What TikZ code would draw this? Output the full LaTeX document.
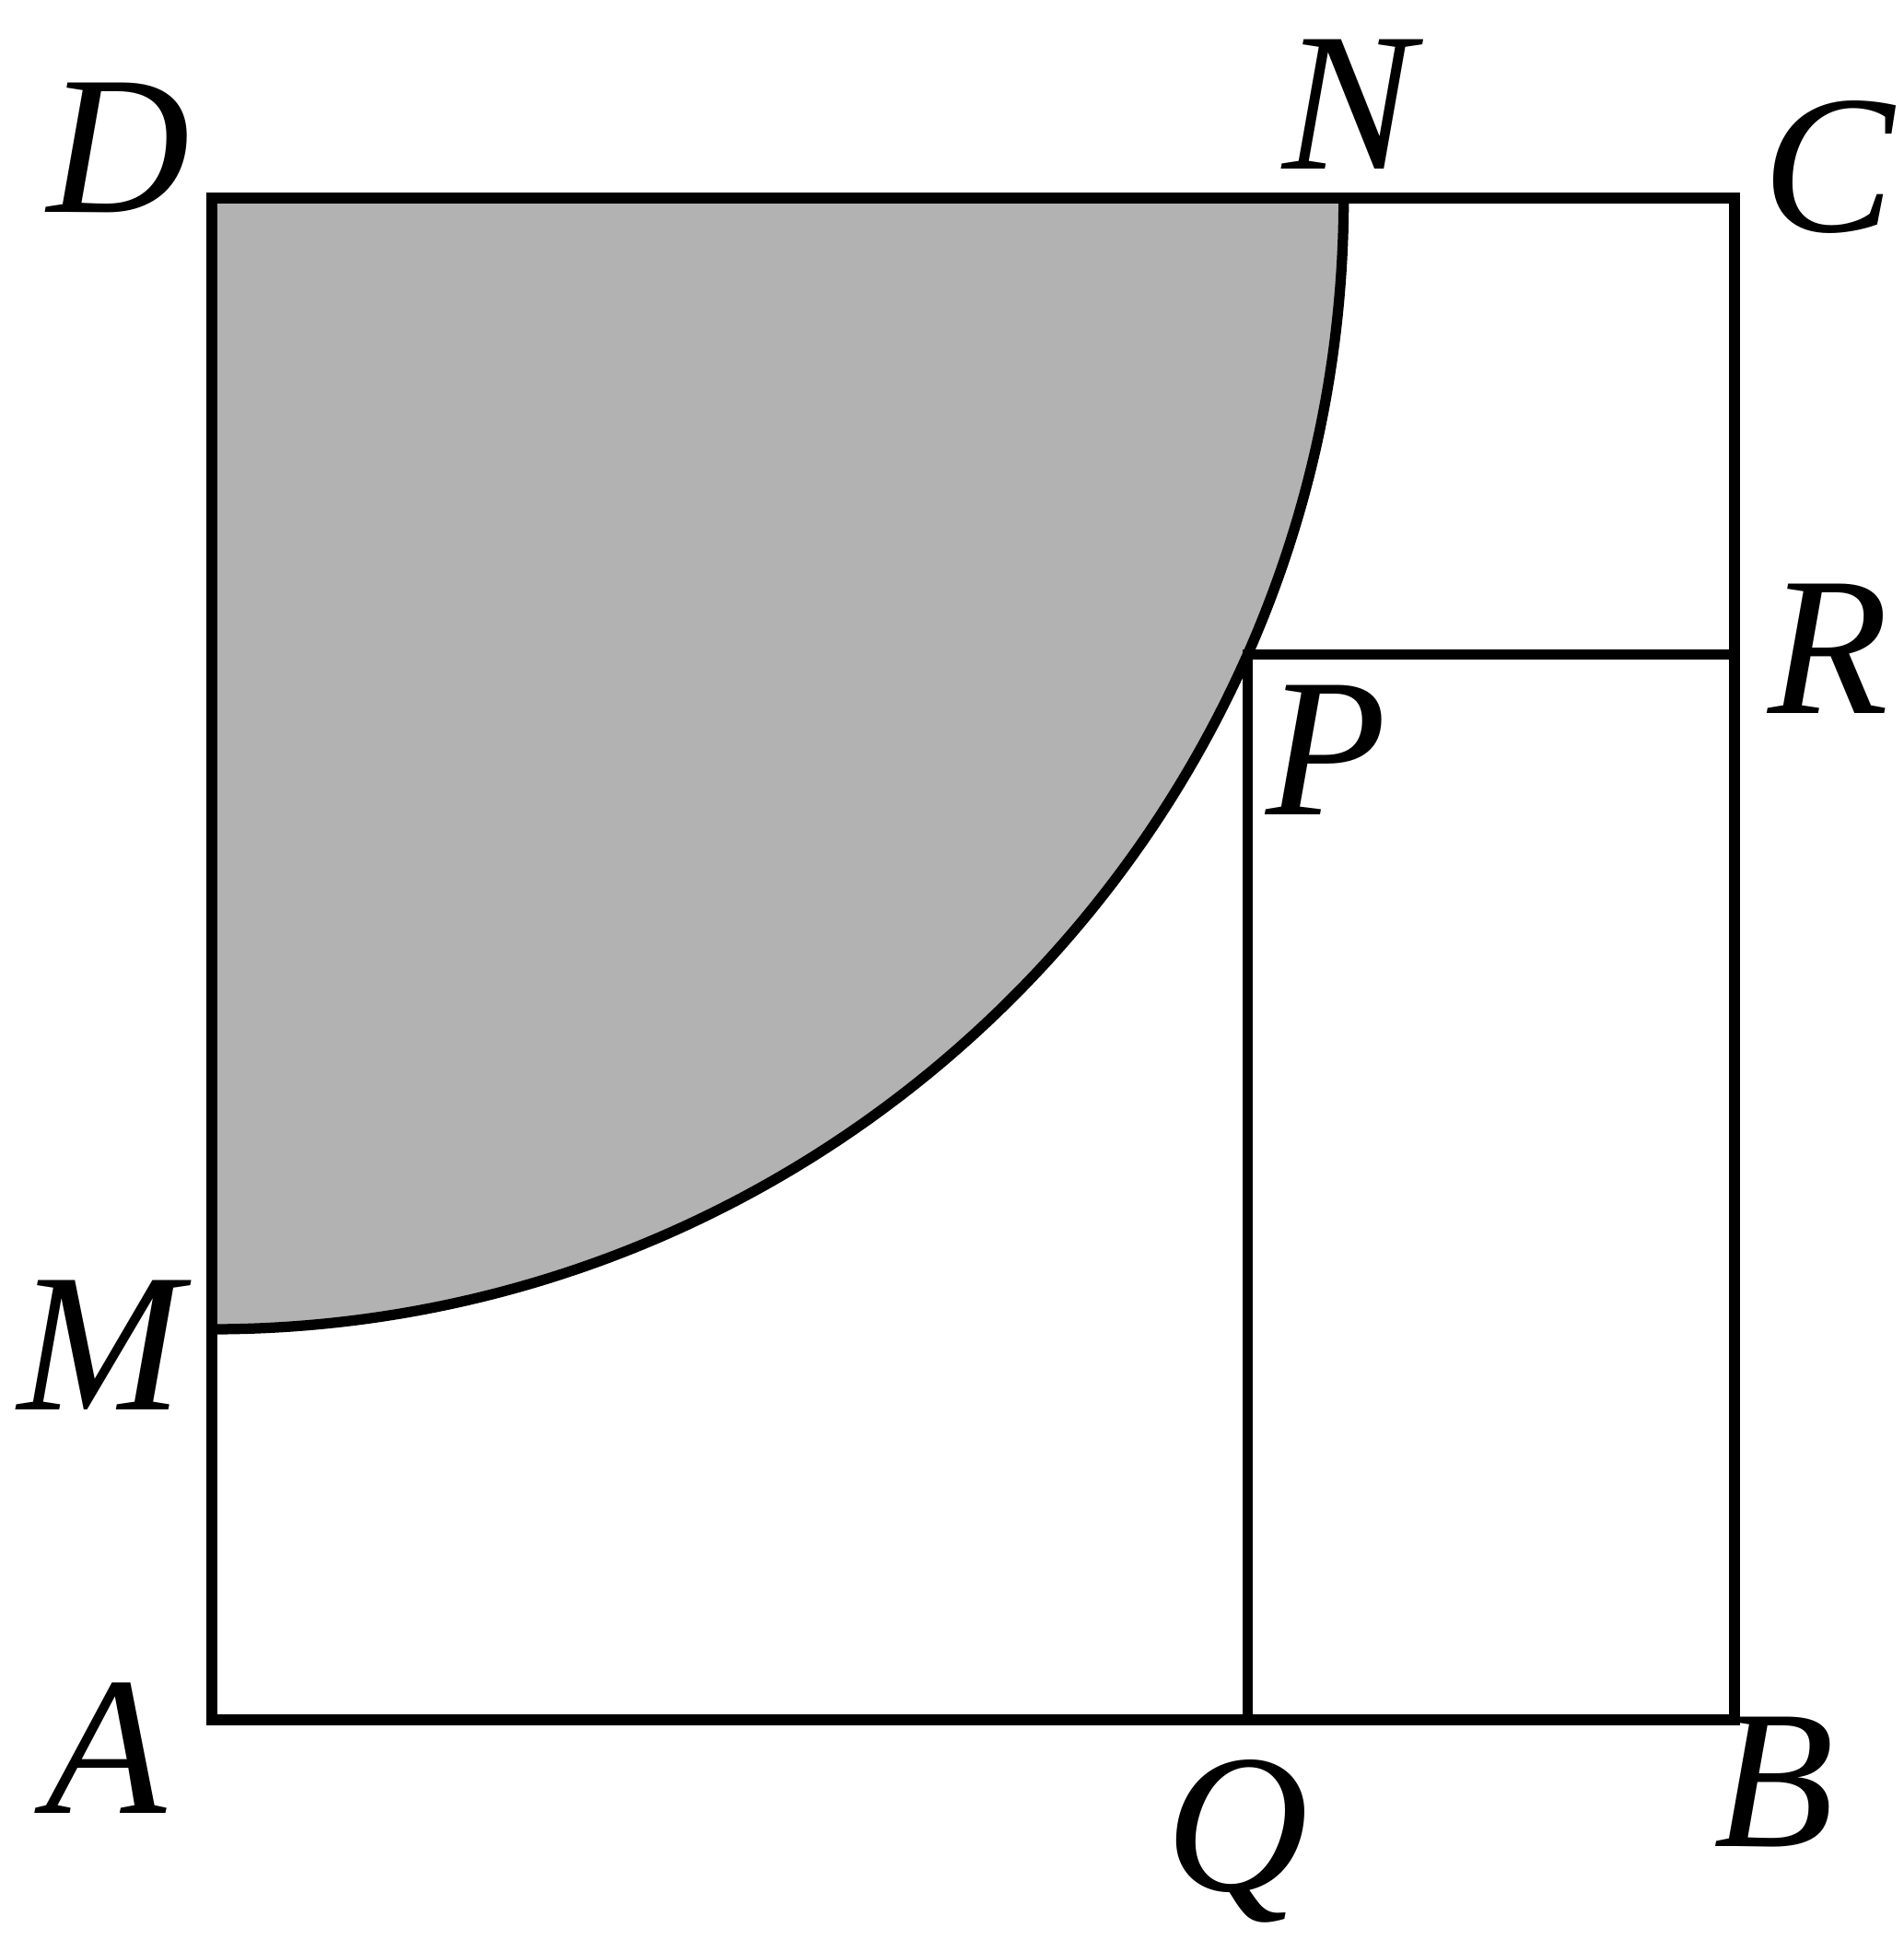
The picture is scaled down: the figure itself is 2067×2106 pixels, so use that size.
\documentclass[tikz,border=0pt]{standalone}
\usepackage{fontspec}
\setmainfont{Liberation Serif}[ItalicFont={Liberation Serif Italic}]
\begin{document}
\begin{tikzpicture}[x=0.01cm,y=0.01cm,
  edge/.style={line width=3.2pt},
  lbl/.style={anchor=base,inner sep=0pt,font=\fontsize{61}{70}\selectfont\itshape}]
\useasboundingbox (0,0) rectangle (2067,2106);
\coordinate (A) at (230,239);\coordinate (B) at (1883,239);
\coordinate (C) at (1883,1891);\coordinate (D) at (230,1891);
\coordinate (M) at (230,663);\coordinate (N) at (1458,1891);
\coordinate (P) at ([shift={(-23.8:12.28cm)}]D);
\coordinate (Q) at (P |- A);\coordinate (R) at (P -| B);
\fill[black!30] (D) -- (M) arc[start angle=-90,end angle=0,radius=12.28cm] -- cycle;
\draw[edge] (A) -- (B) -- (C) -- (D) -- cycle;
\draw[edge] (M) arc[start angle=-90,end angle=0,radius=12.28cm];
\draw[edge] (Q) -- (P) -- (R);
\node[lbl] (lD) at (129,1875) {D};\node[lbl] (lN) at (1464,1922) {N};
\node[lbl] (lC) at (1985,1854) {C};\node[lbl] (lR) at (1985,1331) {R};
\node[lbl] (lP) at (1440,1221) {P};\node[lbl] (lM) at (109,575) {M};
\node[lbl] (lA) at (115,137) {A};\node[lbl] (lQ) at (1343,54) {Q};
\node[lbl] (lB) at (1926,101) {B};
\end{tikzpicture}
\end{document}
